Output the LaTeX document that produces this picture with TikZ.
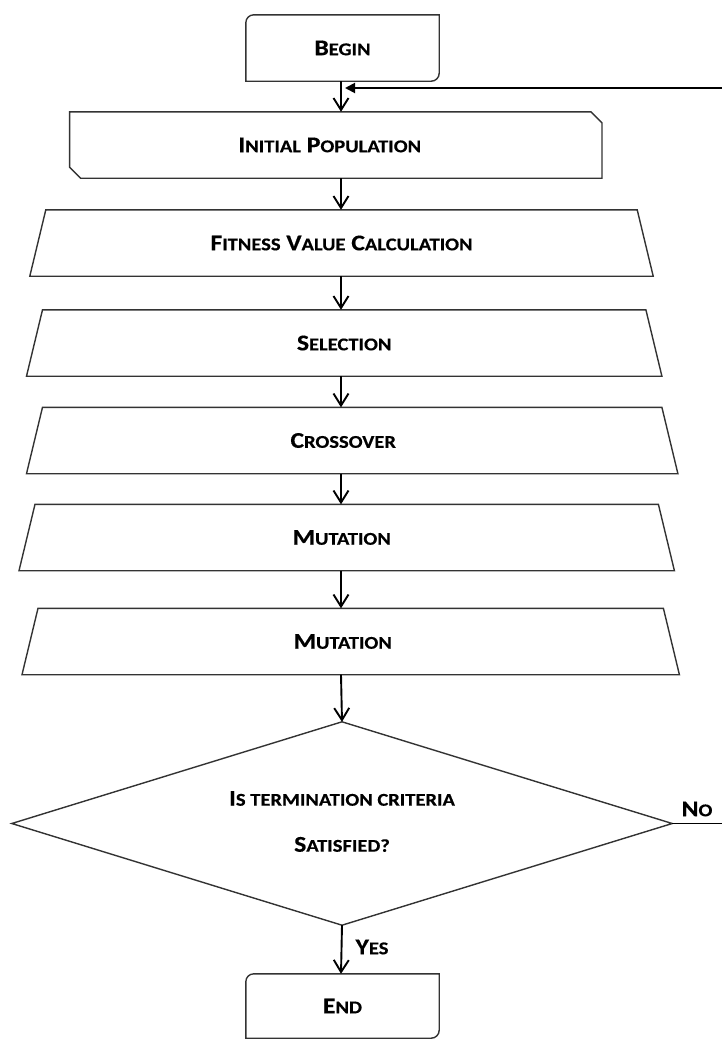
\documentclass[tikz,border=0pt]{standalone}
\usepackage{fontspec}
\setmainfont{Carlito}[BoldFeatures={FakeBold=0.4}]
\usetikzlibrary{arrows.meta}
\newcommand\bigf{\fontsize{22.5}{26}\selectfont}
\newcommand\smf[1]{{\fontsize{18}{26}\selectfont #1}}
\newcommand\xsc{1.14}
\newcommand\lbl[1]{\scalebox{\xsc}[1]{\bfseries\bigf #1}}
\newcommand\shl[1]{\hspace*{-#1}}
\tikzset{
  lab/.style={draw=none, inner sep=0pt, text=black},
  boxn/.style={lab, minimum width=#1, minimum height=66},
  outl/.style={draw=black!80, line width=1.4pt, line join=miter},
  flow/.style={-{Straight Barb[length=12pt,width=15pt]}, line width=1.9pt, black},
  fbk/.style={-{Triangle[length=10pt,width=10pt]}, line width=1.9pt, black},
}
\begin{document}
\begin{tikzpicture}[x=1pt,y=-1pt]
\useasboundingbox (0,0) rectangle (722,1039);
\coordinate (sp) at (341,0);

% Begin
\node[boxn=193] (begin) at (342.5,48) {\lbl{B\smf{EGIN}}};
\draw[outl] (begin.south west) -- ([yshift=-8pt]begin.north west)
  to[out=90,in=180] ([xshift=8pt]begin.north west) -- (begin.north east)
  -- ([yshift=8pt]begin.south east) to[out=-90,in=0] ([xshift=-8pt]begin.south east) -- cycle;

% Initial population
\node[boxn=532] (ip) at (335.8,145) {\shl{12pt}\lbl{I\smf{NITIAL} P\smf{OPULATION}}};
\draw[outl] (ip.north west) -- ([xshift=-11pt]ip.north east) -- ([yshift=-11pt]ip.north east)
  -- (ip.south east) -- ([xshift=11pt]ip.south west) -- ([yshift=11pt]ip.south west) -- cycle;

% Trapezoids
\node[boxn=623] (fit) at (341.5,243) {\lbl{F\smf{ITNESS} V\smf{ALUE} C\smf{ALCULATION}}};
\node[boxn=635] (sel) at (344.2,343) {\lbl{S\smf{ELECTION}}};
\node[boxn=651] (cro) at (352.2,440.5) {\shl{18pt}\lbl{C\smf{ROSSOVER}}};
\node[boxn=655] (mu1) at (346.7,537.5) {\shl{10pt}\lbl{M\smf{UTATION}}};
\node[boxn=657] (mu2) at (350.7,641.5) {\shl{16pt}\lbl{M\smf{UTATION}}};
\foreach \n in {fit,sel,cro,mu1,mu2}{
  \draw[outl] (\n.south west) -- ([xshift=16pt]\n.north west) -- ([xshift=-16pt]\n.north east)
    -- (\n.south east) -- cycle;
}

% Decision
\node[lab, minimum width=660, minimum height=203, font=\fontsize{22.5}{26}\selectfont] (dec) at (342,823.5)
  {\raisebox{3pt}{\begin{tabular}{@{}c@{}}\lbl{I\smf{S TERMINATION CRITERIA}}\\[20pt]\lbl{S\smf{ATISFIED?}}\end{tabular}}};
\draw[outl] (dec.north) -- (dec.east) -- (dec.south) -- (dec.west) -- cycle;

% End
\node[lab, minimum width=193, minimum height=64] (end) at (342.5,1006) {\lbl{E\smf{ND}}};
\draw[outl] (end.south west) -- ([yshift=-8pt]end.north west)
  to[out=90,in=180] ([xshift=8pt]end.north west) -- (end.north east)
  -- ([yshift=8pt]end.south east) to[out=-90,in=0] ([xshift=-8pt]end.south east) -- cycle;

% Connectors
\draw[flow] (begin.south -| sp) -- (ip.north -| sp);
\draw[flow] (ip.south -| sp) -- (fit.north -| sp);
\draw[flow] (fit.south -| sp) -- (sel.north -| sp);
\draw[flow] (sel.south -| sp) -- (cro.north -| sp);
\draw[flow] (cro.south -| sp) -- (mu1.north -| sp);
\draw[flow] (mu1.south -| sp) -- (mu2.north -| sp);
\draw[flow] (mu2.south -| sp) -- (dec.north);
\draw[flow] (dec.south) -- (end.north -| sp);

% Loop back
\coordinate (fbin) at (722,88);
\coordinate (noout) at (722,823.5);
\draw[line width=1.9pt] (dec.east) -- (noout);
\draw[fbk, shorten >=4pt] (fbin) -- (sp |- fbin);
\node[lab] (no) at (697,809) {\lbl{N\smf{O}}};
\node[lab] (yes) at (372,947) {\lbl{Y\smf{ES}}};
\end{tikzpicture}
\end{document}
